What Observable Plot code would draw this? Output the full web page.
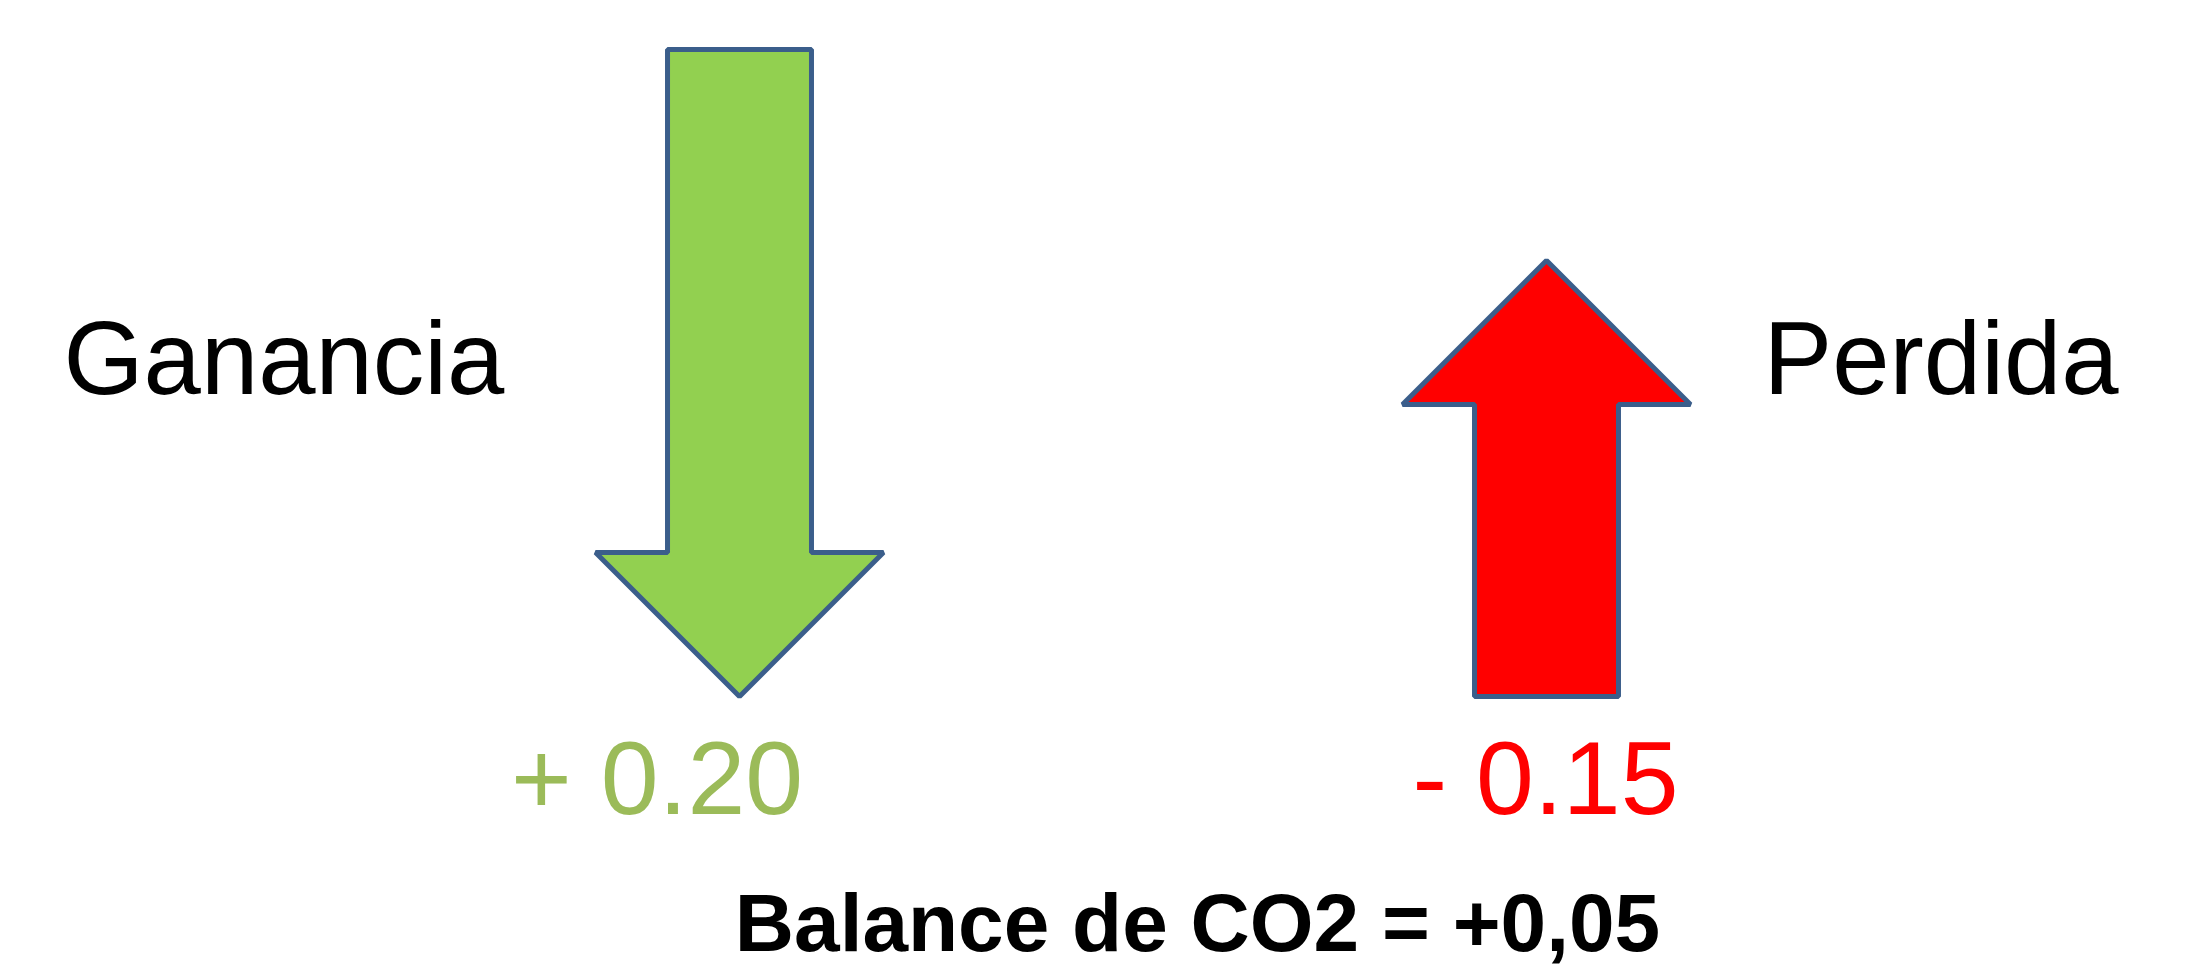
<!DOCTYPE html>
<html>
<head>
<meta charset="utf-8">
<script src="https://cdn.jsdelivr.net/npm/d3@7"></script>
<script src="https://cdn.jsdelivr.net/npm/@observablehq/plot@0.6"></script>
<style>
  html, body { margin: 0; padding: 0; background: #ffffff; }
  svg { display: block; }
</style>
</head>
<body>
<div id="chart"></div>
<script>
// ---- data ----
const categories = ["Ganancia", "Perdida"];
const values = [0.20, -0.15];
const valueLabels = ["+ 0.20", "- 0.15"];
const directions = ["down", "up"];
const arrowLength = [1.00, 0.674];   // relative arrow lengths
const balanceLabel = "Balance de CO2 = +0,05";

// ---- styles / layout ----
const W = 2208, H = 964;
const arrowFill = ["#92D050", "#FF0000"];
const labelColor = ["#9BBB59", "#FF0000"];
const strokeColor = "#3B5E8B";
const shaftHalf = 0.0892, headHalf = 0.1784, headLen = 0.2226;

function arrowPoints(i) {
  const xc = i, L = arrowLength[i];
  if (directions[i] === "down") {
    return [[xc - shaftHalf, L], [xc + shaftHalf, L], [xc + shaftHalf, headLen], [xc + headHalf, headLen],
            [xc, 0], [xc - headHalf, headLen], [xc - shaftHalf, headLen]]
      .map(([x, y]) => ({x, y, cat: categories[i]}));
  }
  return [[xc - shaftHalf, 0], [xc + shaftHalf, 0], [xc + shaftHalf, L - headLen], [xc + headHalf, L - headLen],
          [xc, L], [xc - headHalf, L - headLen], [xc - shaftHalf, L - headLen]]
    .map(([x, y]) => ({x, y, cat: categories[i]}));
}

const catLabels = categories.map((c, i) => ({
  text: c, x: i === 0 ? i - 0.8377 : i + 0.2690, y: 0.468
}));
const valLabels = valueLabels.map((t, i) => ({
  text: t, x: i === 0 ? i - 0.2830 : i - 0.1660, y: -0.1823, i
}));
const balance = [{text: balanceLabel, x: 0.5675, y: -0.3926}];

const marks = [];
categories.forEach((c, i) => {
  marks.push(Plot.line(arrowPoints(i), {
    x: "x", y: "y", curve: "linear-closed",
    fill: arrowFill[i], stroke: strokeColor, strokeWidth: 5, strokeLinejoin: "miter"
  }));
});
marks.push(Plot.text(catLabels, {
  x: "x", y: "y", text: "text", textAnchor: "start", lineAnchor: "bottom",
  fontSize: 103, fontFamily: "Liberation Sans", fill: "#000000"
}));
valLabels.forEach(d => {
  marks.push(Plot.text([d], {
    x: "x", y: "y", text: "text", textAnchor: "start", lineAnchor: "bottom",
    fontSize: 104, fontFamily: "Liberation Sans", fill: labelColor[d.i]
  }));
});
marks.push(Plot.text(balance, {
  x: "x", y: "y", text: "text", textAnchor: "middle", lineAnchor: "bottom",
  fontSize: 82, fontWeight: "bold", fontFamily: "Liberation Sans", fill: "#000000"
}));

const chart = Plot.plot({
  width: W, height: H,
  margin: 0,
  x: {type: "linear", domain: [-739 / 807, (W - 739) / 807], axis: null},
  y: {type: "linear", domain: [-(H - 696) / 647, 696 / 647], axis: null},
  style: {background: "#ffffff", overflow: "visible"},
  marks
});
document.getElementById("chart").appendChild(chart);
</script>
</body>
</html>
